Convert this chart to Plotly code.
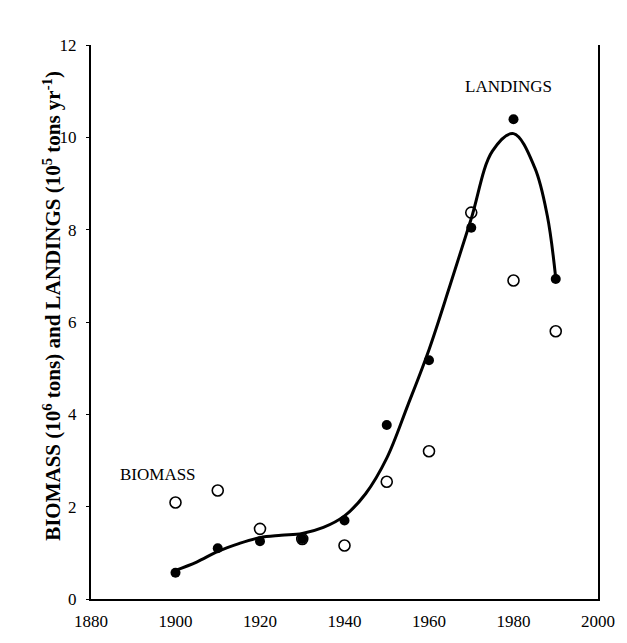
import plotly.graph_objects as go

years = [1900, 1910, 1920, 1930, 1940, 1950, 1960, 1970, 1980, 1990]
landings = [0.57, 1.10, 1.25, 1.30, 1.70, 3.77, 5.17, 8.04, 10.39, 6.93]
biomass = [2.09, 2.35, 1.52, 1.30, 1.16, 2.54, 3.20, 8.37, 6.90, 5.80]

fit_years = [1900, 1905, 1910, 1915, 1920, 1925, 1930, 1935, 1940, 1945, 1950,
             1955, 1960, 1965, 1970, 1975, 1980, 1985, 1988, 1990]
fit_values = [0.62, 0.80, 1.03, 1.20, 1.33, 1.38, 1.42, 1.55, 1.80, 2.28, 3.05,
              4.20, 5.40, 6.80, 8.24, 9.70, 10.08, 9.35, 8.30, 6.95]

xticks = [1880, 1900, 1920, 1940, 1960, 1980, 2000]
yticks = [0, 2, 4, 6, 8, 10, 12]

serif = "Liberation Serif, Times New Roman, serif"

fig = go.Figure()
fig.add_trace(go.Scatter(x=fit_years, y=fit_values, mode="lines",
                         line=dict(color="black", width=3, shape="spline", smoothing=1.0),
                         showlegend=False, hoverinfo="skip"))
fig.add_trace(go.Scatter(x=years, y=biomass, mode="markers",
                         marker=dict(symbol="circle-open", size=11, color="black",
                                     line=dict(width=1.6, color="black")),
                         showlegend=False))
fig.add_trace(go.Scatter(x=years, y=landings, mode="markers",
                         marker=dict(symbol="circle", size=10, color="black"),
                         showlegend=False))

fig.add_annotation(x=1895.8, y=2.69, text="BIOMASS", showarrow=False,
                   font=dict(family=serif, size=17, color="black"))
fig.add_annotation(x=1978.8, y=11.1, text="LANDINGS", showarrow=False,
                   font=dict(family=serif, size=17, color="black"))
fig.add_annotation(xref="paper", yref="paper", x=(36 - 91) / 509, y=(603 - 308) / 558,
                   text="<b>BIOMASS (10<sup>6</sup> tons) and LANDINGS (10<sup>5</sup> tons yr<sup>-1</sup>)</b>",
                   textangle=-90, showarrow=False,
                   font=dict(family=serif, size=21, color="black"))

fig.update_layout(
    width=627, height=643,
    margin=dict(l=91, r=27, t=45, b=40),
    paper_bgcolor="white", plot_bgcolor="white",
    font=dict(family=serif, size=17, color="black"),
    xaxis=dict(range=[1880, 2000], tickvals=xticks, showgrid=False, zeroline=False,
               showline=True, linecolor="black", linewidth=2, ticks="",
               ticklabelstandoff=6),
    yaxis=dict(range=[0, 12], tickvals=yticks, showgrid=False, zeroline=False,
               showline=True, linecolor="black", linewidth=2, mirror=True,
               ticks="outside", ticklen=3, tickwidth=1, tickcolor="black",
               ticklabelstandoff=6),
)

fig.write_html("out.html")
